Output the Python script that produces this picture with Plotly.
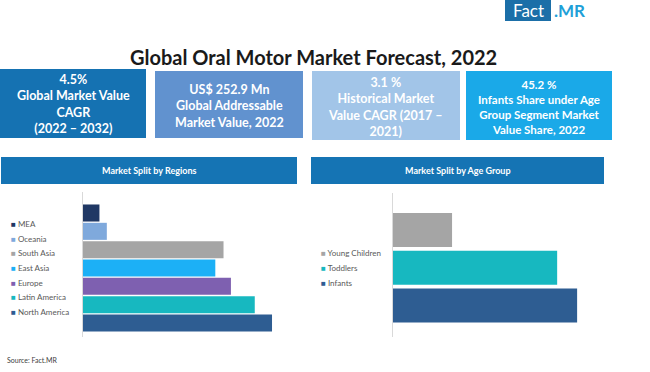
import plotly.graph_objects as go

# ---------------- data ----------------
regions = ["North America", "Latin America", "Europe", "East Asia", "South Asia", "Oceania", "MEA"]
region_share = [23.0, 20.9, 18.0, 16.1, 17.1, 2.9, 2.0]
region_colors = ["#2e5d92", "#17b8c0", "#7e60b0", "#1cb0f6", "#a5a5a5", "#7fa9dc", "#203864"]

age_groups = ["Infants", "Toddlers", "Young Children"]
age_share = [45.2, 40.3, 14.5]
age_colors = ["#2e5d92", "#17b8c0", "#a5a5a5"]

kpi_values = ["4.5%", "US$ 252.9 Mn", "3.1 %", "45.2 %"]
kpi_labels = [
    "Global Market Value<br>CAGR<br>(2022 – 2032)",
    "Global Addressable<br>Market Value, 2022",
    "Historical Market<br>Value CAGR (2017 –<br>2021)",
    "Infants Share under Age<br>Group Segment Market<br>Value Share, 2022",
]

title_text = "Global Oral Motor Market Forecast, 2022"
panel_titles = ["Market Split by Regions", "Market Split by Age Group"]
source_text = "Source: Fact.MR"

# ---------------- helpers ----------------
W, H = 650, 372
FONT = "Lato"


def px(x):
    return x / W


def py(y):
    return 1 - y / H


fig = go.Figure()

fig.add_trace(go.Bar(
    y=regions, x=region_share, orientation="h",
    marker=dict(color=region_colors, line=dict(width=0)),
    width=0.93, xaxis="x", yaxis="y", showlegend=False, hoverinfo="x+y",
))
fig.add_trace(go.Bar(
    y=age_groups, x=age_share, orientation="h",
    marker=dict(color=age_colors, line=dict(width=0)),
    width=0.9, xaxis="x2", yaxis="y2", showlegend=False, hoverinfo="x+y",
))

shapes = []
annotations = []

# KPI boxes
kpi_boxes = [(0, 69, 146, 138), (155, 71, 303, 138), (312, 71, 460, 140), (466, 71, 612, 140)]
kpi_colors = ["#1572b2", "#6192cf", "#a2c5e8", "#1aa9e8"]
kpi_sizes = [12.5, 12.5, 12.5, 11.5]
for (x0, y0, x1, y1), c, v, lab, fs in zip(kpi_boxes, kpi_colors, kpi_values, kpi_labels, kpi_sizes):
    shapes.append(dict(type="rect", xref="paper", yref="paper", x0=px(x0), x1=px(x1), y0=py(y1), y1=py(y0),
                       fillcolor=c, line=dict(width=0), layer="below"))
    annotations.append(dict(xref="paper", yref="paper", x=px((x0 + x1) / 2), y=py((y0 + y1) / 2 + 1),
                            text="<b>" + v + "<br>" + lab + "</b>", showarrow=False,
                            font=dict(family=FONT, size=fs, color="white"),
                            xanchor="center", yanchor="middle", align="center"))

# panel headers
headers = [(1, 157, 297, 184), (311, 157, 604, 184)]
for (x0, y0, x1, y1), t in zip(headers, panel_titles):
    shapes.append(dict(type="rect", xref="paper", yref="paper", x0=px(x0), x1=px(x1), y0=py(y1), y1=py(y0),
                       fillcolor="#1574b4", line=dict(width=0), layer="below"))
    annotations.append(dict(xref="paper", yref="paper", x=px((x0 + x1) / 2), y=py((y0 + y1) / 2),
                            text="<b>" + t + "</b>", showarrow=False,
                            font=dict(family=FONT, size=9, color="white"),
                            xanchor="center", yanchor="middle"))

# title
annotations.append(dict(xref="paper", yref="paper", x=px(313), y=py(57), text="<b>" + title_text + "</b>",
                        showarrow=False, font=dict(family=FONT, size=20, color="#1a1a1a"),
                        xanchor="center", yanchor="middle"))

# logo
shapes.append(dict(type="rect", xref="paper", yref="paper", x0=px(505), x1=px(551), y0=py(21), y1=py(0),
                   fillcolor="#1b6fa8", line=dict(width=0), layer="below"))
annotations.append(dict(xref="paper", yref="paper", x=px(528), y=py(11), text="Fact", showarrow=False,
                        font=dict(family=FONT, size=17, color="white"), xanchor="center", yanchor="middle"))
annotations.append(dict(xref="paper", yref="paper", x=px(552), y=py(11), text="<b>.MR</b>", showarrow=False,
                        font=dict(family=FONT, size=17, color="#1ea0d8"), xanchor="left", yanchor="middle"))

# legends (drawn from the data lists)
for i, (name, c) in enumerate(zip(regions[::-1], region_colors[::-1])):
    annotations.append(dict(xref="paper", yref="paper", x=px(9), y=py(224 + i * 14.67),
                            text='<span style="color:%s">■</span> %s' % (c, name), showarrow=False,
                            font=dict(family=FONT, size=8, color="#595959"), xanchor="left", yanchor="middle"))
for i, (name, c) in enumerate(zip(age_groups[::-1], age_colors[::-1])):
    annotations.append(dict(xref="paper", yref="paper", x=px(319), y=py(253 + i * 15),
                            text='<span style="color:%s">■</span> %s' % (c, name), showarrow=False,
                            font=dict(family=FONT, size=8, color="#595959"), xanchor="left", yanchor="middle"))

# source
annotations.append(dict(xref="paper", yref="paper", x=px(5), y=py(360), text=source_text, showarrow=False,
                        font=dict(family=FONT, size=7, color="#404040"), xanchor="left", yanchor="middle"))

fig.update_layout(
    width=W, height=H, autosize=False,
    margin=dict(l=0, r=0, t=0, b=0, pad=0),
    paper_bgcolor="white", plot_bgcolor="white",
    showlegend=False,
    xaxis=dict(domain=[px(83), px(297)], range=[0, 26.04], visible=False, fixedrange=True),
    yaxis=dict(domain=[py(337), py(192)], type="category", categoryorder="array", categoryarray=regions,
               range=[-0.764, 7.146], showline=True, linecolor="#d9d9d9", linewidth=1,
               showticklabels=False, ticks="", showgrid=False, zeroline=False, anchor="x"),
    xaxis2=dict(domain=[px(393), px(604)], range=[0, 51.8], visible=False, fixedrange=True, anchor="y2"),
    yaxis2=dict(domain=[py(337), py(193)], type="category", categoryorder="array", categoryarray=age_groups,
                range=[-0.834, 2.98], showline=True, linecolor="#d9d9d9", linewidth=1,
                showticklabels=False, ticks="", showgrid=False, zeroline=False, anchor="x2"),
    shapes=shapes,
    annotations=annotations,
    font=dict(family=FONT),
)

fig.write_html("out.html", config={"displayModeBar": False},
               post_script="document.body.style.margin='0';document.body.style.overflow='hidden';")
